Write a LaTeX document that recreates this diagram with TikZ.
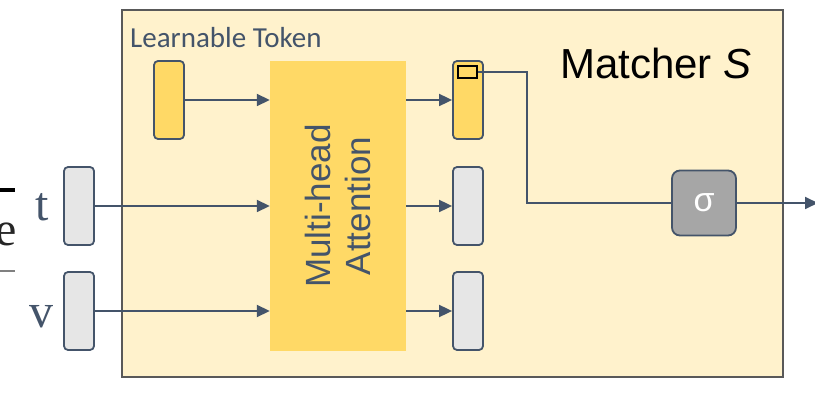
\documentclass[tikz,border=0pt]{standalone}
\usepackage{fontspec}
\setmainfont{Liberation Serif}
\newfontfamily\carl{Carlito}
\newfontfamily\arl{Liberation Sans}
\usetikzlibrary{arrows.meta}
\definecolor{bgy}{HTML}{FFF2CC}
\definecolor{ylw}{HTML}{FFD966}
\definecolor{slate}{HTML}{44546A}
\definecolor{lgr}{HTML}{E6E6E6}
\definecolor{dgr}{HTML}{A6A6A6}
\definecolor{frm}{HTML}{595959}
\begin{document}
\begin{tikzpicture}[x=1pt,y=-1pt,
  tok/.style={draw=slate, line width=1.8pt, rounded corners=4pt, minimum width=30pt, minimum height=78pt, inner sep=0pt},
  ytok/.style={tok, fill=ylw},
  gtok/.style={tok, fill=lgr},
  arr/.style={draw=slate, line width=1.8pt, -{Triangle[length=13pt,width=12pt]}},
  conn/.style={draw=slate, line width=1.8pt},
  lbl/.style={text=slate, font=\fontsize{48}{50}\selectfont, inner sep=0pt, anchor=base}
]
\useasboundingbox (0,0) rectangle (815,409);
% outer frame
\node[draw=frm, fill=bgy, line width=1.8pt, minimum width=661pt, minimum height=367pt, inner sep=0pt] (frame) at (452.5,193.5) {};
% left fragments
\node[lbl, anchor=base east, text=black!85] (efrag) at (17,246) {e};
\draw[black, line width=3.5pt] (0,190) -- (15,190);
\draw[gray, line width=1.5pt] (0,271) -- (15,271);
% labels
\node[text=slate, font=\carl\fontsize{29}{32}\selectfont, anchor=west, inner sep=0pt] (lt) at (130,38) {Learnable Token};
\node[anchor=west, inner sep=0pt, font=\arl\fontsize{42}{46}\selectfont] (matcher) at (560,63) {Matcher \textit{S}};
% MHA
\node[fill=ylw, minimum width=290pt, minimum height=136pt, inner sep=0pt, rotate=90, align=center, text=slate, font=\arl\fontsize{35}{40}\selectfont] (mha) at (338,206) {Multi-head\\Attention};
% tokens
\node[ytok] (ltok) at (169,100) {};
\node[gtok] (tin) at (79,206) {};
\node[gtok] (vin) at (79,311) {};
\node[ytok] (o1) at (468,100) {};
\node[gtok] (o2) at (468,206) {};
\node[gtok] (o3) at (468,311) {};
\node[draw=black, fill=ylw, line width=1.5pt, minimum width=19pt, minimum height=12pt, inner sep=0pt] (sq) at (467.5,72) {};
% t, v labels
\node[lbl] (tl) at (42,221) {t};
\node[lbl] (vl) at (42,327) {v};
% sigma
\node[draw=slate, fill=dgr, line width=1.8pt, rounded corners=8pt, minimum width=64pt, minimum height=65pt, inner sep=0pt, text=white, font=\arl\fontsize{34}{36}\selectfont] (sig) at (704,203) {σ};
% arrows
\draw[arr] (ltok.east) -- (ltok.east -| mha.north);
\draw[arr] (tin.east) -- (tin.east -| mha.north);
\draw[arr] (vin.east) -- (vin.east -| mha.north);
\draw[arr] (o1.west -| mha.south) -- (o1.west);
\draw[arr] (o2.west -| mha.south) -- (o2.west);
\draw[arr] (o3.west -| mha.south) -- (o3.west);
\coordinate (bend) at (527,72);
\draw[conn] (sq.east) -- (bend) |- (sig.west);
\coordinate (out) at (818,203);
\draw[arr] (sig.east) -- (out);
\end{tikzpicture}
\end{document}
